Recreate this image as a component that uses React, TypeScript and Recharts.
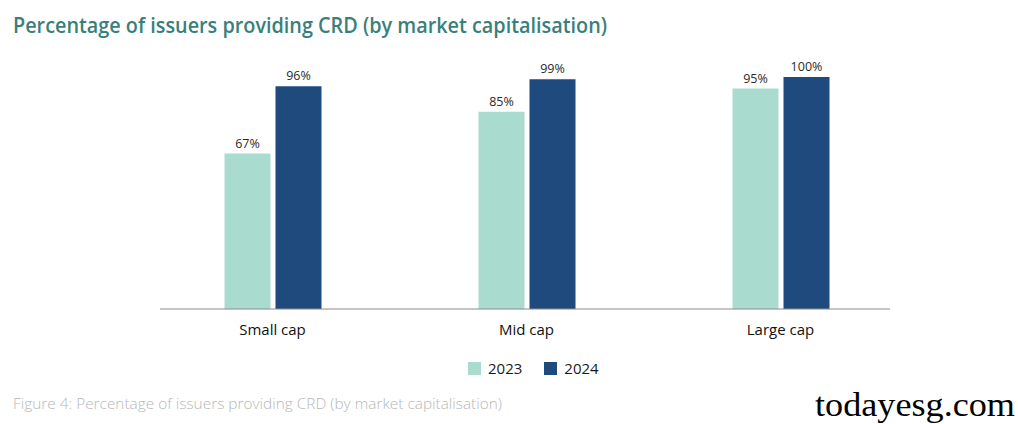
import { Bar, BarChart, LabelList, XAxis, YAxis } from 'recharts';

const categories = ['Small cap', 'Mid cap', 'Large cap'];
const values2023 = [67, 85, 95];
const values2024 = [96, 99, 100];
const seriesNames = ['2023', '2024'];

const COLOR_2023 = '#a9dbcf';
const COLOR_2024 = '#1f4a7e';

const chartData = categories.map((name, i) => ({
  name,
  y2023: values2023[i],
  y2024: values2024[i]
}));

const fmt = (v: number) => `${v}%`;

export default function App() {
  return (
    <div style={{ position: 'absolute', left: 0, top: 0, width: 1018, height: 424, background: '#fff', fontFamily: '"Open Sans", sans-serif' }}>
      <svg width={1018} height={50} style={{ position: 'absolute', left: 0, top: 0 }}>
        <text x={13} y={33} fontSize={22} fontWeight={600} fill="#3a7f7b" textLength={594} lengthAdjust="spacingAndGlyphs">
          Percentage of issuers providing CRD (by market capitalisation)
        </text>
      </svg>

      <div style={{ position: 'absolute', left: 0, top: 0 }}>
        <BarChart
          width={1018}
          height={424}
          data={chartData}
          margin={{ top: 77, left: 145.5, right: 110.5, bottom: 75 }}
          barSize={46}
          barGap={5}
        >
          <XAxis
            dataKey="name"
            axisLine={{ stroke: '#8a8a8a', strokeWidth: 1, strokeDasharray: '0 14.5 730 1000' }}
            tickLine={false}
            tick={{ fill: '#111', fontSize: 15, fontWeight: 500 }}
            height={40}
            tickMargin={9}
          />
          <YAxis hide domain={[0, 100]} />
          <Bar dataKey="y2023" fill={COLOR_2023} isAnimationActive={false}>
            <LabelList dataKey="y2023" position="top" offset={6} formatter={fmt} fill="#2a2a2a" fontSize={12.5} />
          </Bar>
          <Bar dataKey="y2024" fill={COLOR_2024} isAnimationActive={false}>
            <LabelList dataKey="y2024" position="top" offset={6} formatter={fmt} fill="#2a2a2a" fontSize={12.5} />
          </Bar>
        </BarChart>
      </div>

      <div style={{ position: 'absolute', top: 358, left: 468, display: 'flex', alignItems: 'center', fontSize: 15, color: '#1a1a1a' }}>
        {seriesNames.map((s, i) => (
          <div key={s} style={{ display: 'flex', alignItems: 'center', marginRight: i === 0 ? 22 : 0 }}>
            <span style={{ width: 13, height: 13, background: i === 0 ? COLOR_2023 : COLOR_2024, display: 'inline-block', marginRight: 7 }} />
            <span>{s}</span>
          </div>
        ))}
      </div>

      <svg width={1018} height={424} style={{ position: 'absolute', left: 0, top: 0, pointerEvents: 'none' }}>
        <text x={13} y={409} fontSize={14} fontWeight={300} fill="#b8b8b8" textLength={489} lengthAdjust="spacingAndGlyphs">
          Figure 4: Percentage of issuers providing CRD (by market capitalisation)
        </text>
        <text x={815} y={416} fontSize={34} fill="#000" fontFamily='"Liberation Serif", serif' textLength={200} lengthAdjust="spacingAndGlyphs">
          todayesg.com
        </text>
      </svg>
    </div>
  );
}
